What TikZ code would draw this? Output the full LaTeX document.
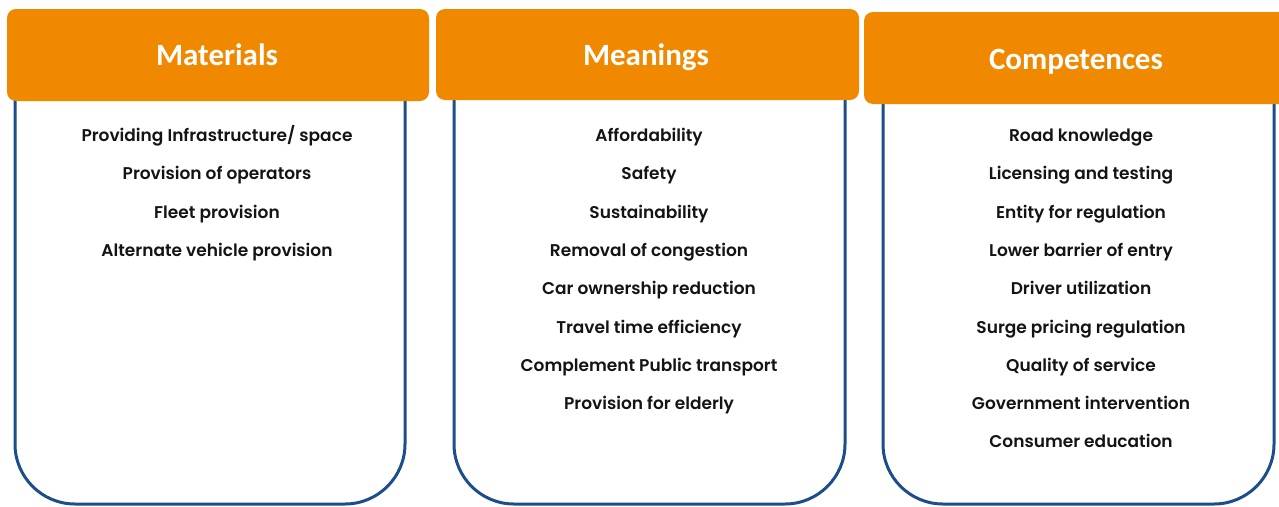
\documentclass[tikz,border=0pt]{standalone}
\usepackage{fontspec}
\setmainfont{Carlito}
\newfontfamily\itemfont{Poppins SemiBold}
\definecolor{hdrorange}{RGB}{240,136,0}
\definecolor{boxblue}{RGB}{28,78,140}
\definecolor{itemtext}{RGB}{20,20,20}
\begin{document}
\begin{tikzpicture}[x=1pt,y=-1pt,
  hdr/.style={fill=hdrorange,draw=none,rounded corners=9pt},
  hdrtext/.style={anchor=base,text=white,font=\fontsize{31}{34}\selectfont\bfseries,inner sep=0pt},
  colbox/.style={draw=boxblue,line width=3pt,rounded corners=60pt,fill=white},
  itm/.style={anchor=base,text=itemtext,font=\itemfont\fontsize{17}{20}\selectfont,inner sep=0pt}]
\useasboundingbox (0,0) rectangle (1279,506);
% column boxes (open at top, hidden under headers)
\draw[colbox] (15,95) -- (15,504) -- (405,504) -- (405,95);
\draw[colbox] (454,95) -- (454,504) -- (845,504) -- (845,95);
\draw[colbox] (883,98) -- (883,504) -- (1274,504) -- (1274,98);
% headers
\fill[hdr] (7,9) rectangle (429,101);
\fill[hdr] (436,9) rectangle (859,100);
\fill[hdr] (864,12) rectangle (1292,104);
\node[hdrtext] (h1) at (217,65) {Materials};
\node[hdrtext] (h2) at (646,65) {Meanings};
\node[hdrtext] (h3) at (1076,69) {Competences};
% Materials items
\foreach \t [count=\i from 0] in {Providing Infrastructure/ space,Provision of operators,Fleet provision,Alternate vehicle provision}
  \node[itm] (ma\i) at (217,141.5+38.3*\i) {\t};
% Meanings items
\foreach \t [count=\i from 0] in {Affordability,Safety,Sustainability,Removal of congestion,Car ownership reduction,Travel time efficiency,Complement Public transport,Provision for elderly}
  \node[itm] (me\i) at (649,141.5+38.3*\i) {\t};
% Competences items
\foreach \t [count=\i from 0] in {Road knowledge,Licensing and testing,Entity for regulation,Lower barrier of entry,Driver utilization,Surge pricing regulation,Quality of service,Government intervention,Consumer education}
  \node[itm] (co\i) at (1081,141.5+38.3*\i) {\t};
\end{tikzpicture}
\end{document}
